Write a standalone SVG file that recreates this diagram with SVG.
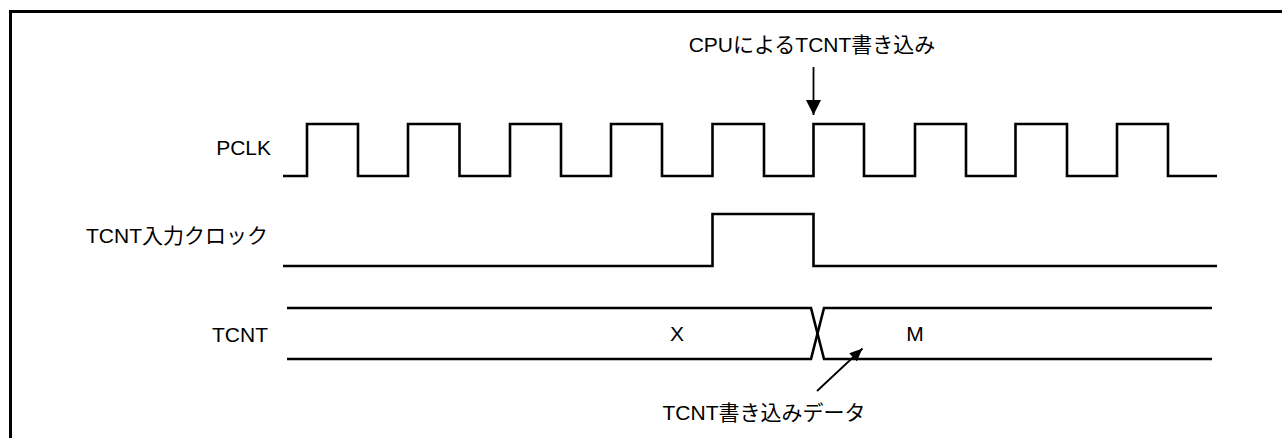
<svg xmlns="http://www.w3.org/2000/svg" width="1282" height="438" viewBox="0 0 1282 438">
<style>
.t{font-family:"Liberation Sans","Noto Sans CJK JP",sans-serif;font-size:21px;fill:#000}
.w{fill:none;stroke:#000;stroke-width:2.6;stroke-linejoin:miter}
.a{fill:none;stroke:#000;stroke-width:1.8}
</style>
<defs>
<marker id="ah" markerUnits="userSpaceOnUse" markerWidth="16" markerHeight="16" refX="15" refY="7.5" orient="auto"><path d="M0,0 L15,7.5 L0,15 Z" fill="#000"/></marker>
<marker id="ah2" markerUnits="userSpaceOnUse" markerWidth="14" markerHeight="12" refX="13" refY="5.5" orient="auto"><path d="M0,0 L13,5.5 L0,11 Z" fill="#000"/></marker>
</defs>
<rect width="1282" height="438" fill="#fff"/>
<path d="M10.5,445 V11.5 H1290" fill="none" stroke="#000" stroke-width="3"/>
<g id="pclk">
<text class="t" x="271" y="155" text-anchor="end">PCLK</text>
<path class="w" d="M283,176 H307 V124 H358 V176 H408 V124 H459.5 V176 H510 V124 H561 V176 H611 V124 H662 V176 H712.5 V124 H764 V176 H813.5 V124 H864 V176 H915 V124 H966 V176 H1015.5 V124 H1067 V176 H1117 V124 H1168 V176 H1217"/>
</g>
<g id="tcnt-clk">
<text class="t" x="268" y="243" text-anchor="end">TCNT入力クロック</text>
<path class="w" d="M283,266 H712.5 V214 H813.5 V266 H1217"/>
</g>
<g id="tcnt">
<text class="t" x="268" y="342" text-anchor="end">TCNT</text>
<path class="w" d="M287,308 H811 L824,359 H1212"/>
<path class="w" d="M287,359 H811 L824,308 H1212"/>
<text class="t" x="677" y="341" text-anchor="middle">X</text>
<text class="t" x="915" y="341" text-anchor="middle">M</text>
</g>
<g id="cpu-label">
<text class="t" x="812" y="52" text-anchor="middle">CPUによるTCNT書き込み</text>
</g>
<g id="data-label">
<text class="t" x="764" y="420" text-anchor="middle">TCNT書き込みデータ</text>
</g>
<g id="connectors">
<line class="a" x1="813.5" y1="67" x2="813.5" y2="115" marker-end="url(#ah)"/>
<line class="a" x1="817" y1="391" x2="862.5" y2="348.5" marker-end="url(#ah2)"/>
</g>
</svg>
